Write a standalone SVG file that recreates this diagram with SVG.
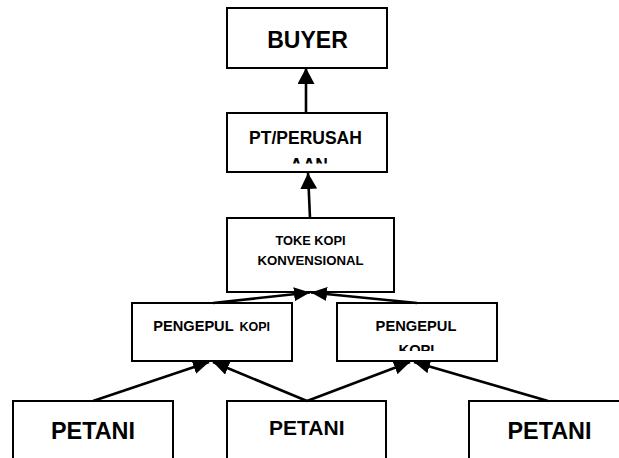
<svg xmlns="http://www.w3.org/2000/svg" width="619" height="458" viewBox="0 0 619 458">
<style>
.box{fill:#fff;stroke:#000;stroke-width:2}
.t{font-family:"Liberation Sans",Arial,sans-serif;font-weight:bold;fill:#000}
.c{fill:none;stroke:#000;stroke-width:2.6}
</style>
<defs>
<marker id="ah" markerUnits="userSpaceOnUse" markerWidth="17" markerHeight="14" refX="16" refY="7" orient="auto"><path d="M0,0 L16,7 L0,14 z" fill="#000"/></marker>
<marker id="ahb" markerUnits="userSpaceOnUse" markerWidth="17" markerHeight="17" refX="16" refY="8.5" orient="auto"><path d="M0,0 L16,8.5 L0,17 z" fill="#000"/></marker>
<clipPath id="cpPT"><rect x="227" y="113" width="160" height="50.5"/></clipPath>
<clipPath id="cpPR"><rect x="337" y="303" width="160" height="48"/></clipPath>
</defs>
<rect width="619" height="458" fill="#fff"/>
<g id="buyer"><rect class="box" x="227" y="8" width="160" height="60"/><text class="t" x="307.5" y="48" font-size="23" text-anchor="middle">BUYER</text></g>
<g id="pt"><rect class="box" x="227" y="113" width="160" height="59"/><text class="t" x="305.5" y="144" font-size="17.5" text-anchor="middle">PT/PERUSAH</text><text class="t" x="309" y="171" font-size="17.5" text-anchor="middle" clip-path="url(#cpPT)">AAN</text></g>
<g id="toke"><rect class="box" x="227" y="218" width="167" height="74"/><text class="t" x="310.5" y="245" font-size="12.8" text-anchor="middle">TOKE KOPI</text><text class="t" x="310.5" y="265" font-size="13.2" text-anchor="middle">KONVENSIONAL</text></g>
<g id="pengepul1"><rect class="box" x="132" y="303" width="160" height="58"/><text class="t" x="153.3" y="331" font-size="14.6">PENGEPUL</text><text class="t" x="239.5" y="331" font-size="12.5">KOPI</text></g>
<g id="pengepul2"><rect class="box" x="337" y="303" width="160" height="58"/><text class="t" x="416" y="331" font-size="14.7" text-anchor="middle">PENGEPUL</text><text class="t" x="416.5" y="355" font-size="14.7" text-anchor="middle" clip-path="url(#cpPR)">KOPI</text></g>
<g id="petani1"><rect class="box" x="13" y="401" width="160" height="80"/><text class="t" x="93" y="439" font-size="23.4" text-anchor="middle">PETANI</text></g>
<g id="petani2"><rect class="box" x="227" y="401" width="159" height="80"/><text class="t" x="306.8" y="435" font-size="21" text-anchor="middle">PETANI</text></g>
<g id="petani3"><rect class="box" x="469" y="401" width="162" height="80"/><text class="t" x="549.5" y="439" font-size="23.4" text-anchor="middle">PETANI</text></g>
<g id="connectors">
<path class="c" d="M306,113 L306,68" marker-end="url(#ahb)"/>
<path class="c" d="M310,218 L308,173" marker-end="url(#ahb)"/>
<path class="c" d="M213,303 L310,292.5" marker-end="url(#ah)"/>
<path class="c" d="M417,303 L311,292.5" marker-end="url(#ah)"/>
<path class="c" d="M93,401 L209,362" marker-end="url(#ah)"/>
<path class="c" d="M307,401 L213,362" marker-end="url(#ah)"/>
<path class="c" d="M307,401 L410,362" marker-end="url(#ah)"/>
<path class="c" d="M548,401 L414,362" marker-end="url(#ah)"/>
</g>
</svg>
